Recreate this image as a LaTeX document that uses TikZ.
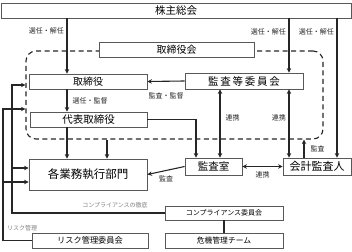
\documentclass[tikz,border=0pt]{standalone}
\usepackage{fontspec}
\setmainfont{Noto Sans CJK JP}
\usetikzlibrary{arrows.meta}
\begin{document}
\begin{tikzpicture}[x=1pt,y=-1pt,
  box/.style={draw=black!65, line width=0.8pt, fill=white, inner sep=0pt, anchor=center},
  arr/.style={draw=black!85, line width=1.1pt, -{Stealth[length=4.5pt,width=4.5pt]}},
  darr/.style={draw=black!85, line width=1.1pt, {Stealth[length=4.5pt,width=4.5pt]}-{Stealth[length=4.5pt,width=4.5pt]}},
  ln/.style={draw=black!85, line width=1.1pt},
  lbl/.style={font=\fontsize{7}{8}\selectfont, inner sep=1pt, text=black!85},
  glbl/.style={font=\fontsize{6}{7}\selectfont, inner sep=1pt, text=black!50},
]
\useasboundingbox (0,0) rectangle (352,251);
% column / row helpers
\coordinate (xa) at (67,0);
\coordinate (xb) at (107,0);
\coordinate (xc) at (196,0);
\coordinate (xd) at (220,0);
\coordinate (xe) at (289,0);
\coordinate (xf) at (304,0);
\coordinate (xg) at (337,0);
\coordinate (xl1) at (12,0);
\coordinate (xl2) at (3,0);
\coordinate (ya) at (0,85);
\coordinate (yb) at (0,109);
% board (dashed)
\node[draw=black!85, line width=1.1pt, dash pattern=on 5pt off 3.5pt, rounded corners=10pt,
      inner sep=0pt, minimum width=297pt, minimum height=88pt] (board) at (174.5,95) {};
% boxes
\node[box, minimum width=350pt, minimum height=15pt, font=\fontsize{10.5}{12}\selectfont] (kabu) at (176,10.5) {株主総会};
\node[box, minimum width=155pt, minimum height=15pt, font=\fontsize{10}{12}\selectfont] (torikai) at (176.5,49.5) {取締役会};
\node[box, minimum width=118pt, minimum height=15pt, font=\fontsize{10}{12}\selectfont] (tori) at (88,81.5) {取締役};
\node[box, minimum width=118pt, minimum height=16pt, font=\fontsize{10.5}{12}\selectfont] (kansa) at (244,81) {監\,査\,等\,委\,員\,会};
\node[box, minimum width=117pt, minimum height=15pt, font=\fontsize{10.5}{12}\selectfont] (daihyo) at (88.5,119.5) {代表取締役};
\node[box, minimum width=118pt, minimum height=31pt, font=\fontsize{11.5}{13}\selectfont] (gyomu) at (88,174.5) {各業務執行部門};
\node[box, minimum width=57pt, minimum height=17pt, font=\fontsize{10.5}{12}\selectfont] (kansashitsu) at (213.5,166.5) {監査室};
\node[box, minimum width=68pt, minimum height=17pt, font=\fontsize{11}{12}\selectfont] (kaikei) at (317,166.5) {会計監査人};
\node[box, minimum width=118pt, minimum height=14pt, font=\fontsize{7}{8}\selectfont] (comp) at (224,213) {コンプライアンス委員会};
\node[box, minimum width=118pt, minimum height=15pt, font=\fontsize{7.8}{9}\selectfont] (kiki) at (224,240.5) {危機管理チーム};
\node[box, minimum width=116pt, minimum height=15pt, font=\fontsize{8.2}{9}\selectfont] (risk) at (90,240.5) {リスク管理委員会};
% connectors from shareholders
\draw[arr] (kabu.south -| xa) -- (tori.north -| xa) node[lbl, pos=0.23, left=1.5pt] (l1) {選任・解任};
\draw[arr] (kabu.south -| xe) -- (kansa.north -| xe) node[lbl, pos=0.24, left=1.5pt] (l2) {選任・解任};
\draw[arr] (kabu.south -| xg) -- (kaikei.north -| xg) node[lbl, pos=0.093, left=1.5pt] (l3) {選任・解任};
% board internal
\draw[arr] (tori.south -| xa) -- (daihyo.north -| xa) node[lbl, midway, right=4pt] (l4) {選任・監督};
\draw[arr] (kansa.west) -- (tori.east) node[lbl, midway, below=10pt] (l5) {監査・監督};
\draw[arr] (daihyo.east) -| (kansashitsu.north -| xc);
\draw[darr] (kansa.south -| xd) -- (kansashitsu.north -| xd) node[lbl, pos=0.41, right=4pt] (l6) {連携};
\draw[darr] (kansa.south -| xe) -- (kaikei.north -| xe) node[lbl, pos=0.41, left=1.5pt] (l7) {連携};
\draw[arr] (daihyo.south -| xa) -- (gyomu.north -| xa);
\draw[arr] (board.south -| xb) -- (gyomu.north -| xb);
\draw[arr] (kansashitsu.west) -- (gyomu.east) node[lbl, midway, below=3.5pt] (l8) {監査};
\draw[darr] (kansashitsu.east) -- (kaikei.west) node[lbl, midway, below=3.5pt] (l9) {連携};
\draw[arr] (kaikei.north -| xf) -- (board.south -| xf) node[lbl, midway, right=5pt] (l10) {監査};
% compliance / risk
\coordinate (g1) at ([yshift=6.5pt]gyomu.west);
\coordinate (g2) at ([yshift=-7.5pt]gyomu.west);
\draw[arr] (comp.west) -- (comp.west -| xl1) -- (xl1 |- ya) -- (board.west |- ya);
\draw[arr] (g1 -| xl1) -- (g1);
\draw[arr] (risk.west) -- (risk.west -| xl2) -- (xl2 |- yb) -- (board.west |- yb);
\draw[arr] (g2 -| xl2) -- (g2);
\draw[ln] (comp.south) -- (kiki.north);
\node[glbl] (l11) at (115,205) {コンプライアンスの徹底};
\node[glbl] (l12) at (22,228) {リスク管理};
\end{tikzpicture}
\end{document}
